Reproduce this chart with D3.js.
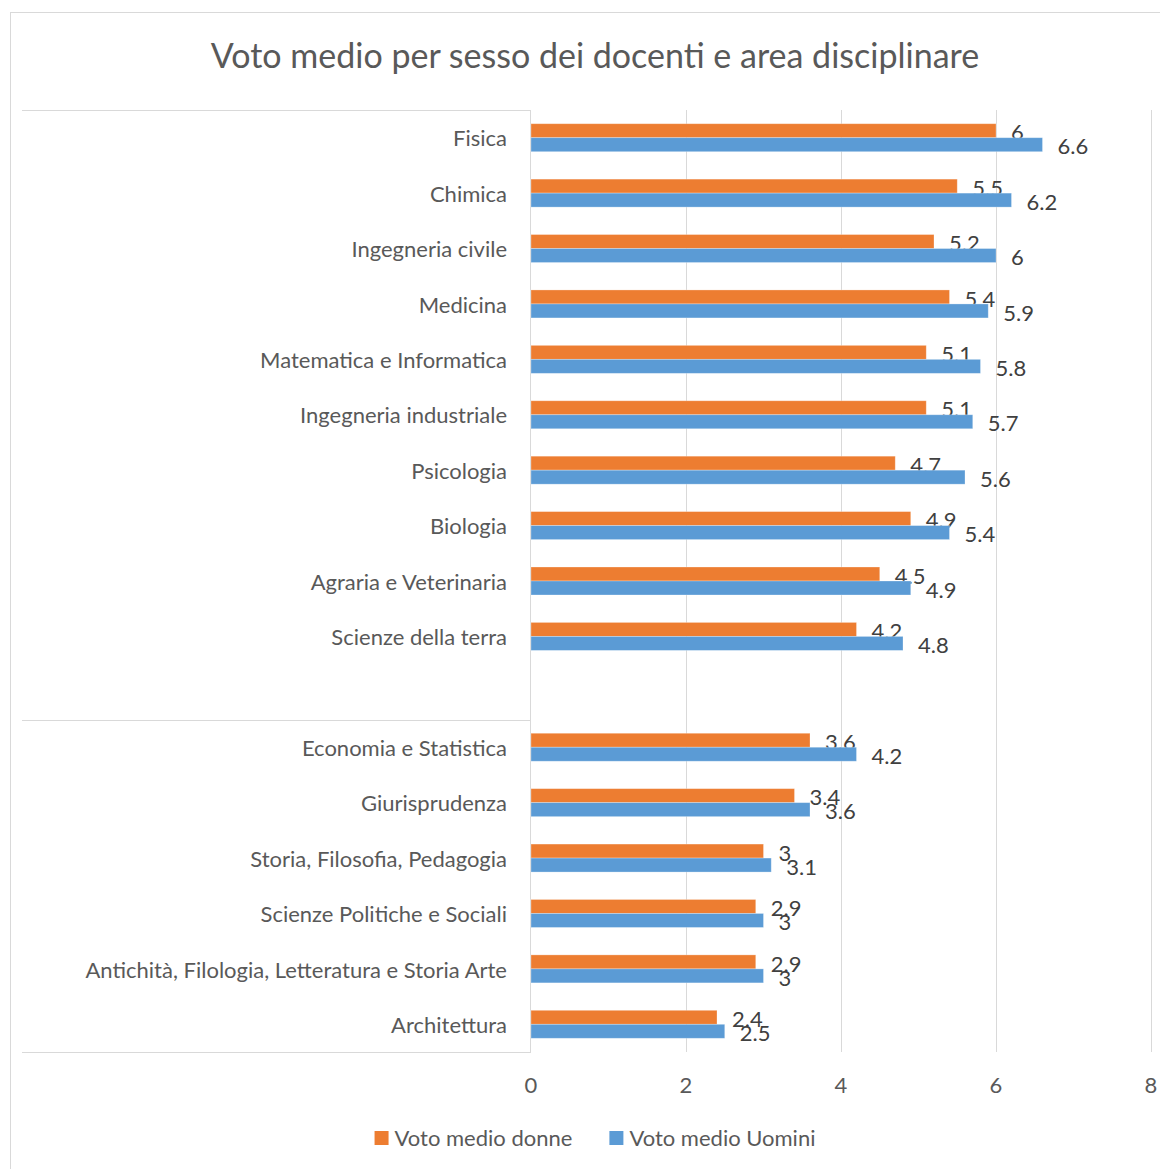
<!DOCTYPE html>
<html>
<head>
<meta charset="utf-8">
<script src="https://cdn.jsdelivr.net/npm/d3@7"></script>
<style>
  body { margin: 0; background: #fff; }
  text { font-family: Lato, "Open Sans", sans-serif; }
</style>
</head>
<body>
<script>
// categories top to bottom, "" is the empty slot between the two groups
const categories = [
    "Fisica", "Chimica", "Ingegneria civile", "Medicina",
    "Matematica e Informatica", "Ingegneria industriale", "Psicologia",
    "Biologia", "Agraria e Veterinaria", "Scienze della terra", "",
    "Economia e Statistica", "Giurisprudenza", "Storia, Filosofia, Pedagogia",
    "Scienze Politiche e Sociali", "Antichità, Filologia, Letteratura e Storia Arte",
    "Architettura"
]
const donne  = [6, 5.5, 5.2, 5.4, 5.1, 5.1, 4.7, 4.9, 4.5, 4.2, null, 3.6, 3.4, 3, 2.9, 2.9, 2.4]
const uomini = [6.6, 6.2, 6, 5.9, 5.8, 5.7, 5.6, 5.4, 4.9, 4.8, null, 4.2, 3.6, 3.1, 3, 3, 2.5]
const seriesNames = ["Voto medio donne", "Voto medio Uomini"]
const xTicks = [0, 2, 4, 6, 8]
const groupBreaks = ["Fisica", "Economia e Statistica"]   // lines above these

const colors = ["#ED7D31", "#5B9BD5"]
const W = 1160, H = 1169

const svg = d3.select("body").append("svg")
    .attr("width", W)
    .attr("height", H)

// outer chart frame
svg.append("rect")
    .attr("x", 10.5).attr("y", 12.5)
    .attr("width", W).attr("height", H)
    .attr("fill", "#fff")
    .attr("stroke", "#d9d9d9")

svg.append("text")
    .attr("x", 595).attr("y", 68)
    .attr("text-anchor", "middle")
    .attr("font-size", 34)
    .attr("fill", "#595959")
    .text("Voto medio per sesso dei docenti e area disciplinare")

const x = d3.scaleLinear().domain([0, 8]).range([531, 1151])
const y = d3.scaleBand().domain(categories).range([110, 1052])
    .paddingInner(0.495).paddingOuter(0.2475)
const ySub = d3.scaleBand().domain([0, 1]).range([0, y.bandwidth()])
const step = y.step()

// vertical gridlines
svg.append("g").selectAll("line")
    .data(xTicks.slice(1))
    .join("line")
    .attr("x1", d => x(d) + 0.5).attr("x2", d => x(d) + 0.5)
    .attr("y1", 110).attr("y2", 1052)
    .attr("stroke", "#d9d9d9")

// category axis line and group separators
svg.append("line")
    .attr("x1", x(0) - 0.5).attr("x2", x(0) - 0.5)
    .attr("y1", 110).attr("y2", 1052)
    .attr("stroke", "#d9d9d9")

const sepY = groupBreaks.map(c => y(c) - (step - y.bandwidth()) / 2).concat([1052])
svg.append("g").selectAll("line")
    .data(sepY)
    .join("line")
    .attr("x1", 22).attr("x2", x(0))
    .attr("y1", d => Math.round(d) + 0.5).attr("y2", d => Math.round(d) + 0.5)
    .attr("stroke", "#d9d9d9")

// category labels
svg.append("g").selectAll("text")
    .data(categories)
    .join("text")
    .attr("x", x(0) - 24)
    .attr("y", d => y(d) + y.bandwidth() / 2 + 1)
    .attr("dy", "0.35em")
    .attr("text-anchor", "end")
    .attr("font-size", 22)
    .attr("fill", "#595959")
    .text(d => d)

// bars
const series = [donne, uomini]
series.forEach((vals, s) => {
    const rows = categories.map((c, i) => ({ c, v: vals[i] })).filter(d => d.v != null)
    svg.append("g").selectAll("rect")
        .data(rows)
        .join("rect")
        .attr("x", x(0))
        .attr("y", d => y(d.c) + ySub(s))
        .attr("width", d => x(d.v) - x(0))
        .attr("height", ySub.bandwidth())
        .attr("fill", colors[s])
        .attr("stroke", "#fff")
        .attr("stroke-opacity", 0.35)
        .attr("stroke-width", 0.8)

    svg.append("g").selectAll("text")
        .data(rows)
        .join("text")
        .attr("x", d => x(d.v) + 15)
        .attr("y", d => y(d.c) + ySub(s) + ySub.bandwidth() / 2 + 2)
        .attr("dy", "0.35em")
        .attr("font-size", 22)
        .attr("fill", "#404040")
        .text(d => String(d.v))
})

// x axis tick labels
svg.append("g").selectAll("text")
    .data(xTicks)
    .join("text")
    .attr("x", d => x(d))
    .attr("y", 1085)
    .attr("dy", "0.35em")
    .attr("text-anchor", "middle")
    .attr("font-size", 22)
    .attr("fill", "#595959")
    .text(d => d)

// legend
const legend = svg.append("g")
const items = seriesNames.map((name, i) => {
    const g = legend.append("g")
    g.append("rect").attr("width", 14).attr("height", 14).attr("y", -7).attr("fill", colors[i])
    const t = g.append("text").attr("x", 20).attr("dy", "0.35em")
        .attr("font-size", 22).attr("fill", "#595959").text(name)
    return { g, w: 20 + t.node().getComputedTextLength() }
})
const gapL = 37
const totalW = d3.sum(items, d => d.w) + gapL
let lx = 595 - totalW / 2
items.forEach(it => {
    it.g.attr("transform", `translate(${lx},1138)`)
    lx += it.w + gapL
})
</script>
</body>
</html>
